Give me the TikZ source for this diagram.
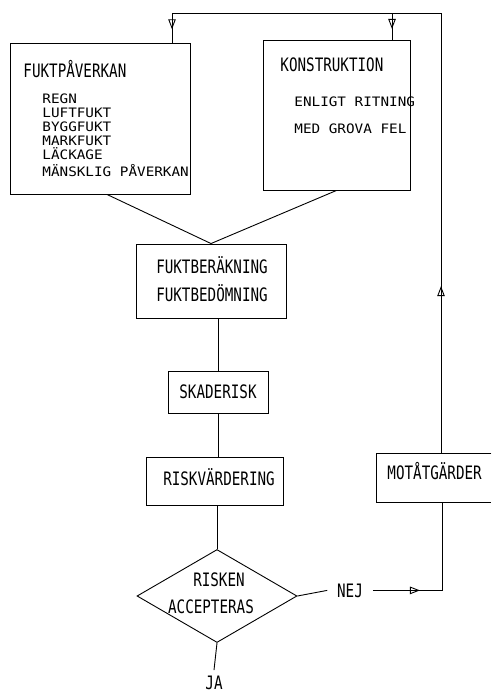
\documentclass[tikz,border=0pt]{standalone}
\usepackage{fontspec}
\usetikzlibrary{shapes.geometric,arrows.meta,decorations.markings}
\newfontfamily\hdrfont[FakeStretch=0.77]{DejaVu Sans Mono}
\newfontfamily\lstfont[FakeStretch=1.1]{DejaVu Sans Mono}
\begin{document}
\begin{tikzpicture}[x=1pt,y=-1pt,
  line width=0.9pt,
  boxnode/.style={draw, inner sep=0pt, rectangle},
  hdr/.style={inner sep=0pt, font=\hdrfont\fontsize{18.5}{22}\selectfont},
  lst/.style={inner sep=0pt, anchor=base west, font=\lstfont\fontsize{13}{14}\selectfont},
  midarrow/.style={postaction={decorate}, decoration={markings,
      mark=at position #1 with {\arrow{Triangle[open,length=10pt,width=7.5pt,line width=0.9pt]}}}}
]
\useasboundingbox (0,0) rectangle (491,694);

% boxes
\node[boxnode, minimum width=180pt, minimum height=151pt] (fp) at (100,118.5) {};
\node[boxnode, minimum width=147pt, minimum height=150pt] (ko) at (336.5,115) {};
\node[boxnode, minimum width=150pt, minimum height=74pt] (fb) at (211,281) {};
\node[boxnode, minimum width=100pt, minimum height=42pt] (sk) at (218,392) {};
\node[boxnode, minimum width=137pt, minimum height=48pt] (rv) at (214.5,481) {};
\node[inner sep=0pt, minimum width=114pt, minimum height=48pt] (mo) at (434,478) {};
\draw (mo.north east) -- (mo.north west) -- (mo.south west) -- (mo.south east);
\node[draw, diamond, inner sep=0pt, minimum width=160pt, minimum height=93pt] (ra) at (217,596) {};

% texts
\node[hdr, anchor=base west] (fpt) at (23,77) {FUKTPÅVERKAN};
\foreach \t/\yy [count=\i] in {REGN/103, LUFTFUKT/117, BYGGFUKT/131, MARKFUKT/145, LÄCKAGE/159, MÄNSKLIG PÅVERKAN/176}
  \node[lst] (l\i) at (42,\yy) {\t};
\node[hdr, anchor=base west] (kot) at (280,71) {KONSTRUKTION};
\node[lst] (ko1) at (294,106) {ENLIGT RITNING};
\node[lst] (ko2) at (294,133) {MED GROVA FEL};
\node[hdr, anchor=base] (fb1) at (212,273) {FUKTBERÄKNING};
\node[hdr, anchor=base] (fb2) at (212,301) {FUKTBEDÖMNING};
\node[hdr, anchor=base] (skt) at (218,398) {SKADERISK};
\node[hdr, anchor=base] (rvt) at (219,485) {RISKVÄRDERING};
\node[hdr, anchor=base west] (mot) at (387,479) {MOTÅTGÄRDER};
\node[hdr, anchor=base] (ra1) at (219,586) {RISKEN};
\node[hdr, anchor=base] (ra2) at (211,613) {ACCEPTERAS};
\node[hdr, anchor=base, inner xsep=9.5pt] (nej) at (350,597) {NEJ};
\node[hdr, anchor=base, inner ysep=5pt] (ja) at (214,689) {JA};

% connectors
\draw ([xshift=7pt]fp.south) -- (fb.north);
\draw (ko.south) -- (fb.north);
\draw (sk.north |- fb.south) -- (sk.north);
\draw (sk.south) -- (sk.south |- rv.north);
\draw (ra.north |- rv.south) -- (ra.north);
\draw (ra.south) -- (ja.north);
\draw (ra.east) -- (nej.west);
\coordinate (mob) at ([xshift=8pt]mo.south);
\coordinate (mot2) at ([xshift=7pt]mo.north);
\draw[midarrow=0.30] (nej.east) -| (mob);
\coordinate (tr) at (441,13);
\coordinate (tl) at (172,13);
\coordinate (tk) at (392,13);
\draw[midarrow=0.38] (mot2) -- (tr);
\draw (tr) -- (tl);
\draw[midarrow=0.55] (tl) -- (tl |- fp.north);
\draw[midarrow=0.6] (tk) -- (tk |- ko.north);
\end{tikzpicture}
\end{document}
